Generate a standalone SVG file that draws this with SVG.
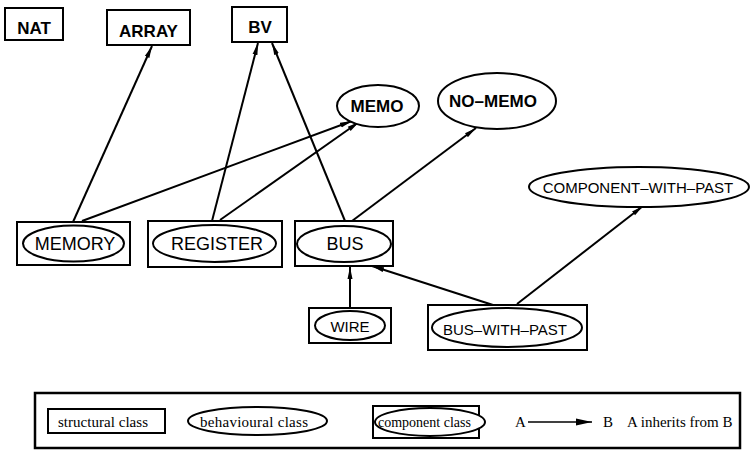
<svg xmlns="http://www.w3.org/2000/svg" width="752" height="450" viewBox="0 0 752 450">
<style>
.box{fill:#fff;stroke:#000;stroke-width:2}
.ell{fill:#fff;stroke:#000;stroke-width:2}
.b{font-family:"Liberation Sans",Arial,sans-serif;font-weight:bold;font-size:17px;text-anchor:middle;fill:#000}
.r{font-family:"Liberation Sans",Arial,sans-serif;font-size:18px;text-anchor:middle;fill:#000}
.s{font-family:"Liberation Sans",Arial,sans-serif;font-size:15px;text-anchor:middle;fill:#000}
.t{font-family:"Liberation Serif","Times New Roman",serif;font-size:15px;fill:#000}
.e{stroke:#000;stroke-width:2;fill:none;marker-end:url(#ah)}
</style>
<defs>
<marker id="ah" viewBox="0 0 12 6" refX="12" refY="3" markerWidth="12" markerHeight="6" markerUnits="userSpaceOnUse" orient="auto">
<path d="M0,0.5 L12,3 L0,5.5 Z" fill="#000"/>
</marker>
<marker id="ahl" viewBox="0 0 16 8" refX="16" refY="4" markerWidth="16" markerHeight="8" markerUnits="userSpaceOnUse" orient="auto">
<path d="M0,0.5 L16,4 L0,7.5 Z" fill="#000"/>
</marker>
</defs>
<g id="connectors">
<line class="e" x1="73" y1="222" x2="152" y2="46"/>
<line class="e" x1="82" y1="221" x2="352" y2="121"/>
<line class="e" x1="212" y1="221" x2="258" y2="43"/>
<line class="e" x1="220" y1="220" x2="359" y2="122"/>
<line class="e" x1="345" y1="221" x2="272" y2="43"/>
<line class="e" x1="352" y1="221" x2="476" y2="128"/>
<line class="e" x1="350" y1="308" x2="350" y2="267"/>
<line class="e" x1="493" y1="305" x2="372" y2="266"/>
<line class="e" x1="517" y1="304" x2="643" y2="206"/>
</g>
<g id="NAT"><rect class="box" x="5" y="8" width="58" height="32"/><text class="b" x="34" y="34">NAT</text></g>
<g id="ARRAY"><rect class="box" x="107" y="10" width="83" height="35"/><text class="b" x="148.5" y="37">ARRAY</text></g>
<g id="BV"><rect class="box" x="232" y="7" width="55" height="35"/><text class="b" x="260" y="33">BV</text></g>
<g id="MEMO"><ellipse class="ell" cx="378" cy="106" rx="41" ry="21"/><text class="b" x="377" y="112">MEMO</text></g>
<g id="NO-MEMO"><ellipse class="ell" cx="497" cy="101" rx="59" ry="28"/><text class="b" x="493" y="107">NO–MEMO</text></g>
<g id="COMPONENT-WITH-PAST"><ellipse class="ell" cx="639" cy="187" rx="110" ry="20"/><text class="s" x="638" y="193">COMPONENT–WITH–PAST</text></g>
<g id="MEMORY"><rect class="box" x="17" y="222" width="113" height="43"/><ellipse class="ell" cx="73.5" cy="243.5" rx="50.5" ry="18"/><text class="r" x="75" y="250">MEMORY</text></g>
<g id="REGISTER"><rect class="box" x="148" y="221" width="134" height="46"/><ellipse class="ell" cx="214.5" cy="243.5" rx="61.5" ry="18.5"/><text class="r" x="217" y="250">REGISTER</text></g>
<g id="BUS"><rect class="box" x="295" y="221" width="98" height="45"/><ellipse class="ell" cx="344" cy="244" rx="47" ry="18"/><text class="r" x="345" y="250">BUS</text></g>
<g id="WIRE"><rect class="box" x="309" y="308" width="82" height="35"/><ellipse class="ell" cx="350" cy="325.5" rx="35" ry="14.5"/><text class="s" x="350" y="332">WIRE</text></g>
<g id="BUS-WITH-PAST"><rect class="box" x="428" y="305" width="159" height="45"/><ellipse class="ell" cx="507" cy="327.5" rx="75" ry="19.5"/><text class="s" x="505" y="335">BUS–WITH–PAST</text></g>
<g id="legend">
<rect x="35" y="393" width="705" height="55" fill="#fff" stroke="#000" stroke-width="2.5"/>
<rect class="box" x="48" y="409" width="117" height="24"/>
<text class="t" x="58" y="427" textLength="90">structural class</text>
<ellipse class="ell" cx="257.5" cy="421" rx="69.5" ry="14"/>
<text class="t" x="200" y="427" textLength="108">behavioural class</text>
<rect class="box" x="373" y="406" width="106" height="32"/>
<ellipse class="ell" cx="430" cy="422" rx="55" ry="14"/>
<text class="t" x="378" y="427" style="font-size:14px">component class</text>
<text class="t" x="515" y="427">A</text>
<line x1="528" y1="422" x2="592" y2="422" stroke="#000" stroke-width="1.5" marker-end="url(#ahl)"/>
<text class="t" x="603" y="427">B</text>
<text class="t" x="627" y="427">A inherits from B</text>
</g>
</svg>
